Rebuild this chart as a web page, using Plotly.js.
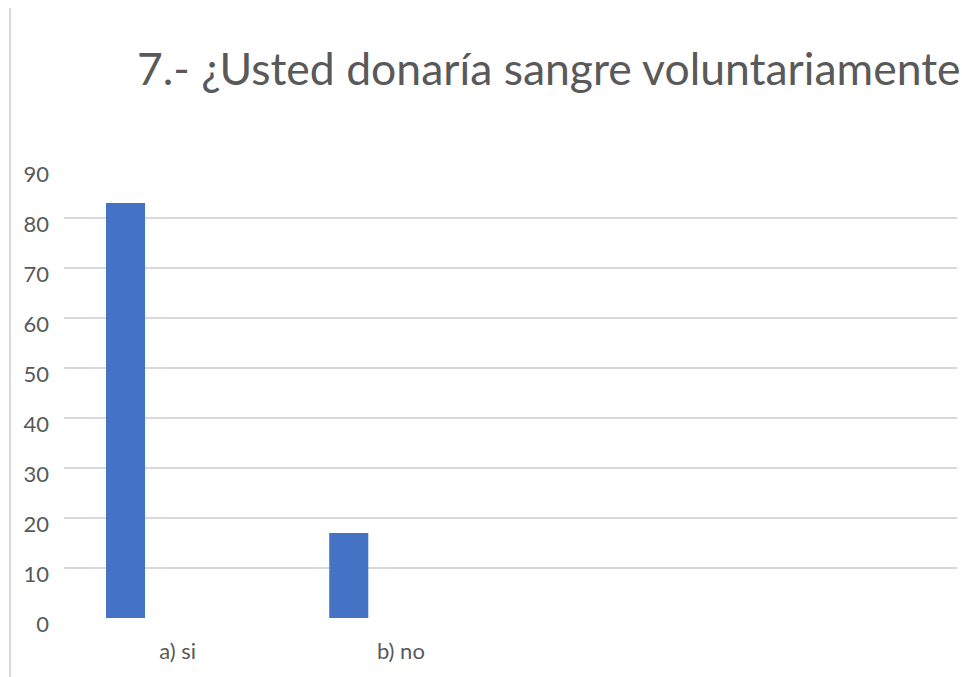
<!DOCTYPE html>
<html>
<head>
<meta charset="utf-8">
<script src="https://cdn.plot.ly/plotly-3.0.1.min.js"></script>
<style>html,body{margin:0;padding:0;background:#fff;}#chart{width:962px;height:677px;}</style>
</head>
<body>
<div id="chart"></div>
<script>
const titleText = "7.- ¿Usted donaría sangre voluntariamente";
const categories = ["a) si", "b) no"];
const values = [83, 17];
const yTicks = [0, 10, 20, 30, 40, 50, 60, 70, 80, 90];

const trace = {
  type: "bar",
  x: categories,
  y: values,
  marker: { color: "#4472C4" },
  offset: -0.312,
  width: 0.175,
  hoverinfo: "x+y"
};

const layout = {
  width: 962,
  height: 677,
  margin: { l: 64, r: 5, t: 168, b: 59 },
  paper_bgcolor: "#ffffff",
  plot_bgcolor: "#ffffff",
  showlegend: false,
  font: { family: "Lato, 'Open Sans', sans-serif", color: "#595959", size: 22 },
  title: {
    text: titleText,
    font: { family: "Lato, sans-serif", size: 44.5, color: "#595959" },
    xref: "container", x: 137 / 962, xanchor: "left",
    yref: "container", y: 1 - 69 / 677, yanchor: "middle"
  },
  xaxis: {
    type: "category",
    categoryorder: "array",
    categoryarray: categories,
    range: [-0.5, 3.5],
    showgrid: false,
    zeroline: false,
    showline: false,
    ticks: "",
    tickfont: { size: 22, color: "#595959" },
    ticklabelstandoff: 18,
    ticklabelshift: 2,
    fixedrange: true
  },
  yaxis: {
    range: [0, 90],
    tickmode: "array",
    tickvals: yTicks,
    showgrid: true,
    gridcolor: "#d9d9d9",
    gridwidth: 2,
    zeroline: false,
    showline: false,
    ticks: "",
    tickfont: { size: 22, color: "#595959" },
    ticklabelstandoff: 14,
    ticklabelshift: 6,
    fixedrange: true
  },
  shapes: [
    { type: "line", xref: "paper", yref: "paper", x0: (10 - 64) / 893, x1: (10 - 64) / 893, y0: -59 / 450, y1: (677 - 8 - 59) / 450,
      line: { color: "#d9d9d9", width: 2 } }
  ]
};

Plotly.newPlot("chart", [trace], layout, { displayModeBar: false, staticPlot: true });
</script>
</body>
</html>
